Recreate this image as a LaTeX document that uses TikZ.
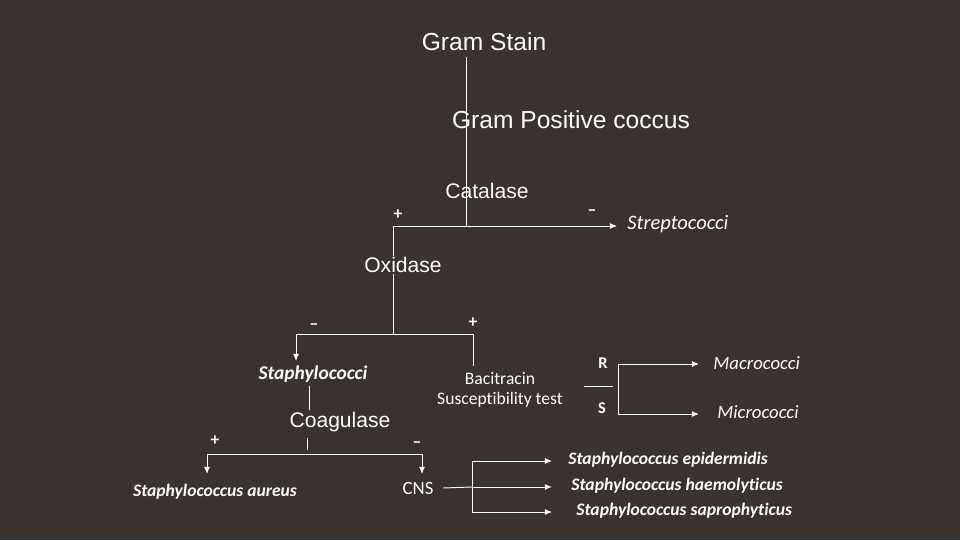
\documentclass[tikz,border=0pt]{standalone}
\usepackage{fontspec}
\setmainfont{Carlito}[Ligatures={TeX,NoCommon}]
\newfontfamily\arialfont{Liberation Sans}
\usepackage{tikz}
\usetikzlibrary{arrows.meta}
\usetikzlibrary{positioning}
\definecolor{slidebg}{RGB}{58,50,44}

\begin{document}
\begin{tikzpicture}[x=0.3mm,y=-0.3mm,
  every node/.style={text=white,inner sep=1pt},
  test/.style={font=\arialfont\fontsize{21}{21}\selectfont},
  subtest/.style={font=\arialfont\fontsize{18}{18}\selectfont},
  genus/.style={font=\itshape\fontsize{16}{16}\selectfont},
  species/.style={font=\bfseries\itshape\fontsize{15}{15}\selectfont},
  plain/.style={font=\fontsize{15}{17}\selectfont,align=center},
  sign/.style={font=\bfseries\fontsize{15}{15}\selectfont},
  link/.style={draw=white,line width=0.8pt},
  arr/.style={link,-{Latex[length=6pt,width=5pt]}}]
\fill[slidebg] (0,0) rectangle (960,540);
% tests
\node[test] (gram) at (484,42) {Gram Stain};
\node[test] (gpc) at (571,120) {Gram Positive coccus};
\node[subtest] (cat) at (487,191) {Catalase};
\node[subtest] (oxi) at (403,265) {Oxidase};
\node[subtest] (coag) at (340,422) {Coagulase};
\node[plain] (bac) at (500,390) {Bacitracin\\Susceptibility test};
% results
\node[genus,anchor=west,font=\itshape\fontsize{17.5}{17.5}\selectfont] (strep) at (626,224) {Streptococci};
\node[species,font=\bfseries\itshape\fontsize{16.6}{16.6}\selectfont] (staph) at (313,374) {Staphylococci};
\node[species] (aureus) at (215,492) {Staphylococcus aureus};
\node[plain,font=\fontsize{16}{16}\selectfont] (cns) at (418,488) {CNS};
\node[species,anchor=west] (epi) at (567,460) {Staphylococcus epidermidis};
\node[species,anchor=west] (hae) at (570,486) {Staphylococcus haemolyticus};
\node[species,anchor=west] (sap) at (575,511) {Staphylococcus saprophyticus};
\node[font=\bfseries\fontsize{14}{14}\selectfont] (res) at (603,363) {R};
\node[font=\bfseries\fontsize{14}{14}\selectfont] (sen) at (602,408) {S};
\node[genus,anchor=west] (macro) at (712,363) {Macrococci};
\node[genus,anchor=west] (micro) at (716,412) {Micrococci};
% signs
\node[sign] (cp) at (398,215) {+};
\node[sign] (cm) at (592,213) {–};
\node[sign] (om) at (314,327) {–};
\node[sign] (op) at (473,323) {+};
\node[sign] (kp) at (215,441) {+};
\node[sign] (km) at (417,445) {–};
% corners
\coordinate (catj) at (466,226);
\coordinate (catl) at (393,226);
\coordinate (catr) at (617,226);
\coordinate (oxj) at (393,334);
\coordinate (oxl) at (296,334);
\coordinate (oxr) at (473,334);
\coordinate (staphend) at (296,361);
\coordinate (bactop) at (473,366);
\coordinate (sc1) at (309,386);
\coordinate (sc2) at (309,410);
\coordinate (tick1) at (307,438);
\coordinate (tick2) at (307,450);
\coordinate (kl) at (207,454);
\coordinate (kr) at (422,454);
\coordinate (aurtop) at (207,474);
\coordinate (cnstop) at (422,474);
\coordinate (cnsj) at (472,487);
\coordinate (cnsa) at (472,461);
\coordinate (cnsb) at (472,512);
\coordinate (rsl) at (584,386);
\coordinate (rsr) at (613,386);
\coordinate (rsa) at (618,364);
\coordinate (rsb) at (618,414);
% connectors
\draw[link] (gram.south -| catj) ++(0,5) -- (catj);
\draw[link] (catl) -- (catj);
\draw[arr] (catj) -- (catr);
\draw[link] (catl) -- (catl |- oxi.north);
\draw[link] (oxi.south -| oxj) -- (oxj);
\draw[arr] (oxr) -- (oxl) -- (staphend);
\draw[link] (oxj) -- (oxr) -- (bactop);
\draw[link] (sc1) -- (sc2);
\draw[link] (tick1) -- (tick2);
\draw[arr] (kr) -- (kl) -- (aurtop);
\draw[arr] (kl) -- (kr) -- (cnstop);
\draw[link] (cns.east) ++(8,0) -- (cnsj);
\draw[arr] (cnsj) -- (cnsj -| 552,0);
\draw[arr] (cnsa) -- (cnsa -| 552,0);
\draw[arr] (cnsa) -- (cnsb) -- (cnsb -| 552,0);
\draw[link] (rsl) -- (rsr);
\draw[arr] (rsb) -- (rsa) -- (rsa -| 699,0);
\draw[arr] (rsb) -- (rsb -| 699,0);
\end{tikzpicture}
\end{document}
